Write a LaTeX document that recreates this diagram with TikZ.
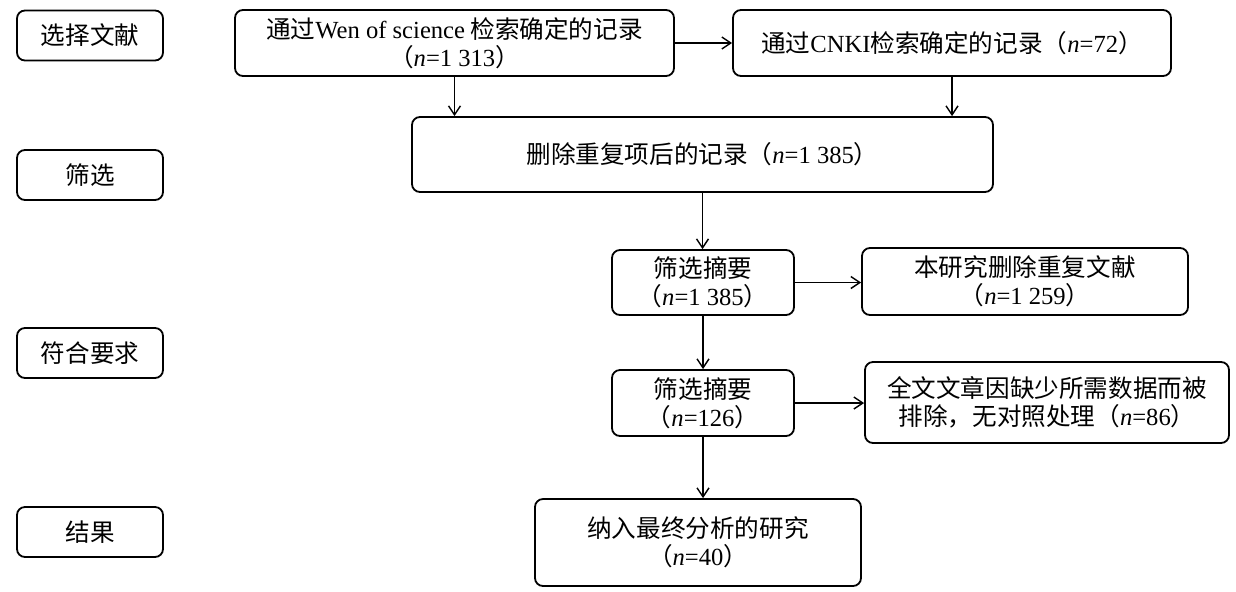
\documentclass[tikz,border=0pt]{standalone}
\usepackage{fontspec}
\setmainfont{Noto Sans CJK SC}
\newfontfamily\tnr{Liberation Serif}
\usetikzlibrary{arrows.meta}
\newcommand\nval[1]{{\tnr\textit{n}=#1}}
\begin{document}
\begin{tikzpicture}[x=0.5pt,y=-0.5pt,
 box/.style={draw,rounded corners=4pt,line width=0.9pt,align=center,inner sep=0pt,
  font=\fontsize{12.3}{14}\selectfont},
 stage/.style={box,minimum width=73pt,minimum height=25pt},
 >={Straight Barb[length=4.5pt,width=6pt]}]
 \useasboundingbox (0,0) rectangle (1236,591);
 % stages on the left
 \node[stage] (sel) at (90,35.5) {选择文献};
 \node[stage] (scr) at (90,175) {筛选};
 \node[stage] (elig) at (90,353) {符合要求};
 \node[stage] (incl) at (90,532) {结果};
 % flow boxes
 \node[box,minimum width=219.5pt,minimum height=33pt] (wos) at (454.5,43)
  {通过{\tnr Wen of science} 检索确定的记录\\（\nval{1 313}）};
 \node[box,minimum width=219pt,minimum height=33pt] (cnki) at (952,43)
  {通过{\tnr CNKI}检索确定的记录（\nval{72}）};
 \node[box,minimum width=290.5pt,minimum height=37.5pt] (del) at (702.5,154.5)
  {删除重复项后的记录（\nval{1 385}）};
 \node[box,minimum width=91pt,minimum height=32.5pt] (absA) at (703,282.5)
  {筛选摘要\\（\nval{1 385}）};
 \node[box,minimum width=163pt,minimum height=33.5pt] (dup) at (1025,281.5)
  {本研究删除重复文献\\（\nval{1 259}）};
 \node[box,minimum width=91pt,minimum height=33pt] (absB) at (703,403)
  {筛选摘要\\（\nval{126}）};
 \node[box,minimum width=182pt,minimum height=40.5pt] (excl) at (1047,402.5)
  {全文文章因缺少所需数据而被\\排除，无对照处理（\nval{86}）};
 \node[box,minimum width=163pt,minimum height=43.5pt] (final) at (698,542.5)
  {纳入最终分析的研究\\（\nval{40}）};
 % arrows
 \draw[->,line width=0.7pt] (wos.east) -- (wos.east -| cnki.west);
 \draw[->,line width=0.7pt] (wos.south) -- (wos.south |- del.north);
 \draw[->,line width=0.7pt] (cnki.south) -- (cnki.south |- del.north);
 \draw[->,line width=0.7pt] (del.south) -- (del.south |- absA.north);
 \draw[->,line width=0.7pt] (absA.east) -- (absA.east -| dup.west);
 \draw[->,line width=0.7pt] (absA.south) -- (absA.south |- absB.north);
 \draw[->,line width=0.7pt] (absB.east) -- (absB.east -| excl.west);
 \draw[->,line width=0.7pt] (absB.south) -- (absB.south |- final.north);
\end{tikzpicture}
\end{document}
